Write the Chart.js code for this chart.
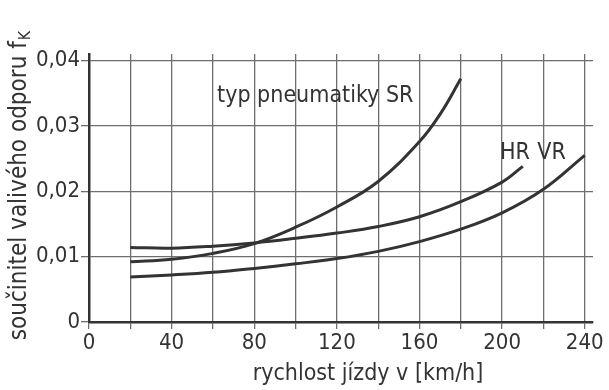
<!DOCTYPE html>
<html>
<head>
<meta charset="utf-8">
<script src="https://cdn.jsdelivr.net/npm/chart.js@4"></script>
<style>
    body { margin: 0; background: #fff; }
    #wrap { width: 609px; height: 390px; }
</style>
</head>
<body>
<div id="wrap"><canvas id="chart"></canvas></div>
<script>
// rychlost v [km/h] a soucinitel valiveho odporu fK
const speedSR = [20, 40, 60, 80, 100, 120, 140, 160, 170, 180];
const valuesSR = [0.0092, 0.0096, 0.0105, 0.0120, 0.0145, 0.0176, 0.0215, 0.0276, 0.0318, 0.0372];

const speedHR = [20, 40, 60, 80, 100, 120, 140, 160, 180, 200, 210];
const valuesHR = [0.0114, 0.0113, 0.0116, 0.0121, 0.0128, 0.0136, 0.0146, 0.0161, 0.0184, 0.0214, 0.0238];

const speedVR = [20, 40, 60, 80, 100, 120, 140, 160, 180, 200, 220, 240];
const valuesVR = [0.0069, 0.0072, 0.0076, 0.0082, 0.0089, 0.0097, 0.0108, 0.0123, 0.0142, 0.0167, 0.0203, 0.0255];

const xTickLabels = ["0", "40", "80", "120", "160", "200", "240"];
const yTickLabels = ["0", "0,01", "0,02", "0,03", "0,04"];

const noteTexts = ["typ pneumatiky SR", "HR", "VR"];
const noteX = [62, 199, 217];
const noteY = [0.0345, 0.0258, 0.0258];

const FONT = '"DejaVu Sans Condensed", "Liberation Sans Narrow", sans-serif';
const INK = "#333";

function toPoints(xs, ys) {
    return xs.map((x, i) => ({ x: x, y: ys[i] }));
}

function makeLine(data) {
    return {
        data: data,
        borderColor: INK,
        borderWidth: 3,
        pointRadius: 0,
        fill: false,
        tension: 0.4
    };
}

const textPlugin = {
    id: "texts",
    afterDraw(chart) {
        let ctx = chart.ctx;
        let xs = chart.scales.x, ys = chart.scales.y;
        ctx.save();
        ctx.fillStyle = INK;
        ctx.font = "23px " + FONT;
        ctx.textBaseline = "middle";
        ctx.textAlign = "left";
        noteTexts.forEach((t, i) => {
            ctx.fillText(t, xs.getPixelForValue(noteX[i]), ys.getPixelForValue(noteY[i]));
        });

        // x axis title
        ctx.textAlign = "center";
        ctx.font = "23px " + FONT;
        ctx.fillText("rychlost jízdy v [km/h]", 368, 374);

        // y axis title with subscript K
        ctx.translate(20, 186);
        ctx.rotate(-Math.PI / 2);
        ctx.font = "24px " + FONT;
        let main = "součinitel valivého odporu f";
        let w = ctx.measureText(main).width;
        ctx.font = "16px " + FONT;
        let ws = ctx.measureText("K").width;
        let start = -(w + ws) / 2;
        ctx.textAlign = "left";
        ctx.font = "24px " + FONT;
        ctx.fillText(main, start, 0);
        ctx.font = "16px " + FONT;
        ctx.fillText("K", start + w + 1, 6);
        ctx.restore();
    }
};

new Chart(document.getElementById("chart"), {
    type: "line",
    data: {
        datasets: [
            makeLine(toPoints(speedSR, valuesSR)),
            makeLine(toPoints(speedHR, valuesHR)),
            makeLine(toPoints(speedVR, valuesVR))
        ]
    },
    options: {
        responsive: true,
        maintainAspectRatio: false,
        animation: false,
        layout: { padding: { left: 0, right: 16, top: 54, bottom: 0 } },
        plugins: {
            legend: { display: false },
            tooltip: { enabled: false }
        },
        scales: {
            x: {
                type: "linear",
                min: 0,
                max: 244,
                afterFit: s => { s.height = 68; },
                border: { color: INK, width: 2.5 },
                grid: { color: "#6e6e6e", lineWidth: 1.3, tickLength: 7 },
                ticks: {
                    stepSize: 20,
                    includeBounds: false,
                    maxRotation: 0,
                    autoSkip: false,
                    color: INK,
                    padding: 1,
                    font: { family: FONT, size: 22 },
                    callback: v => (v % 40 === 0 ? xTickLabels[v / 40] : "")
                }
            },
            y: {
                min: 0,
                max: 0.041,
                afterFit: s => { s.width = 89; },
                border: { color: INK, width: 2.5 },
                grid: { color: "#6e6e6e", lineWidth: 1.3, tickLength: 8 },
                ticks: {
                    stepSize: 0.01,
                    includeBounds: false,
                    color: INK,
                    padding: 1,
                    font: { family: FONT, size: 22 },
                    callback: v => yTickLabels[Math.round(v * 100)]
                }
            }
        }
    },
    plugins: [textPlugin]
});
</script>
</body>
</html>
